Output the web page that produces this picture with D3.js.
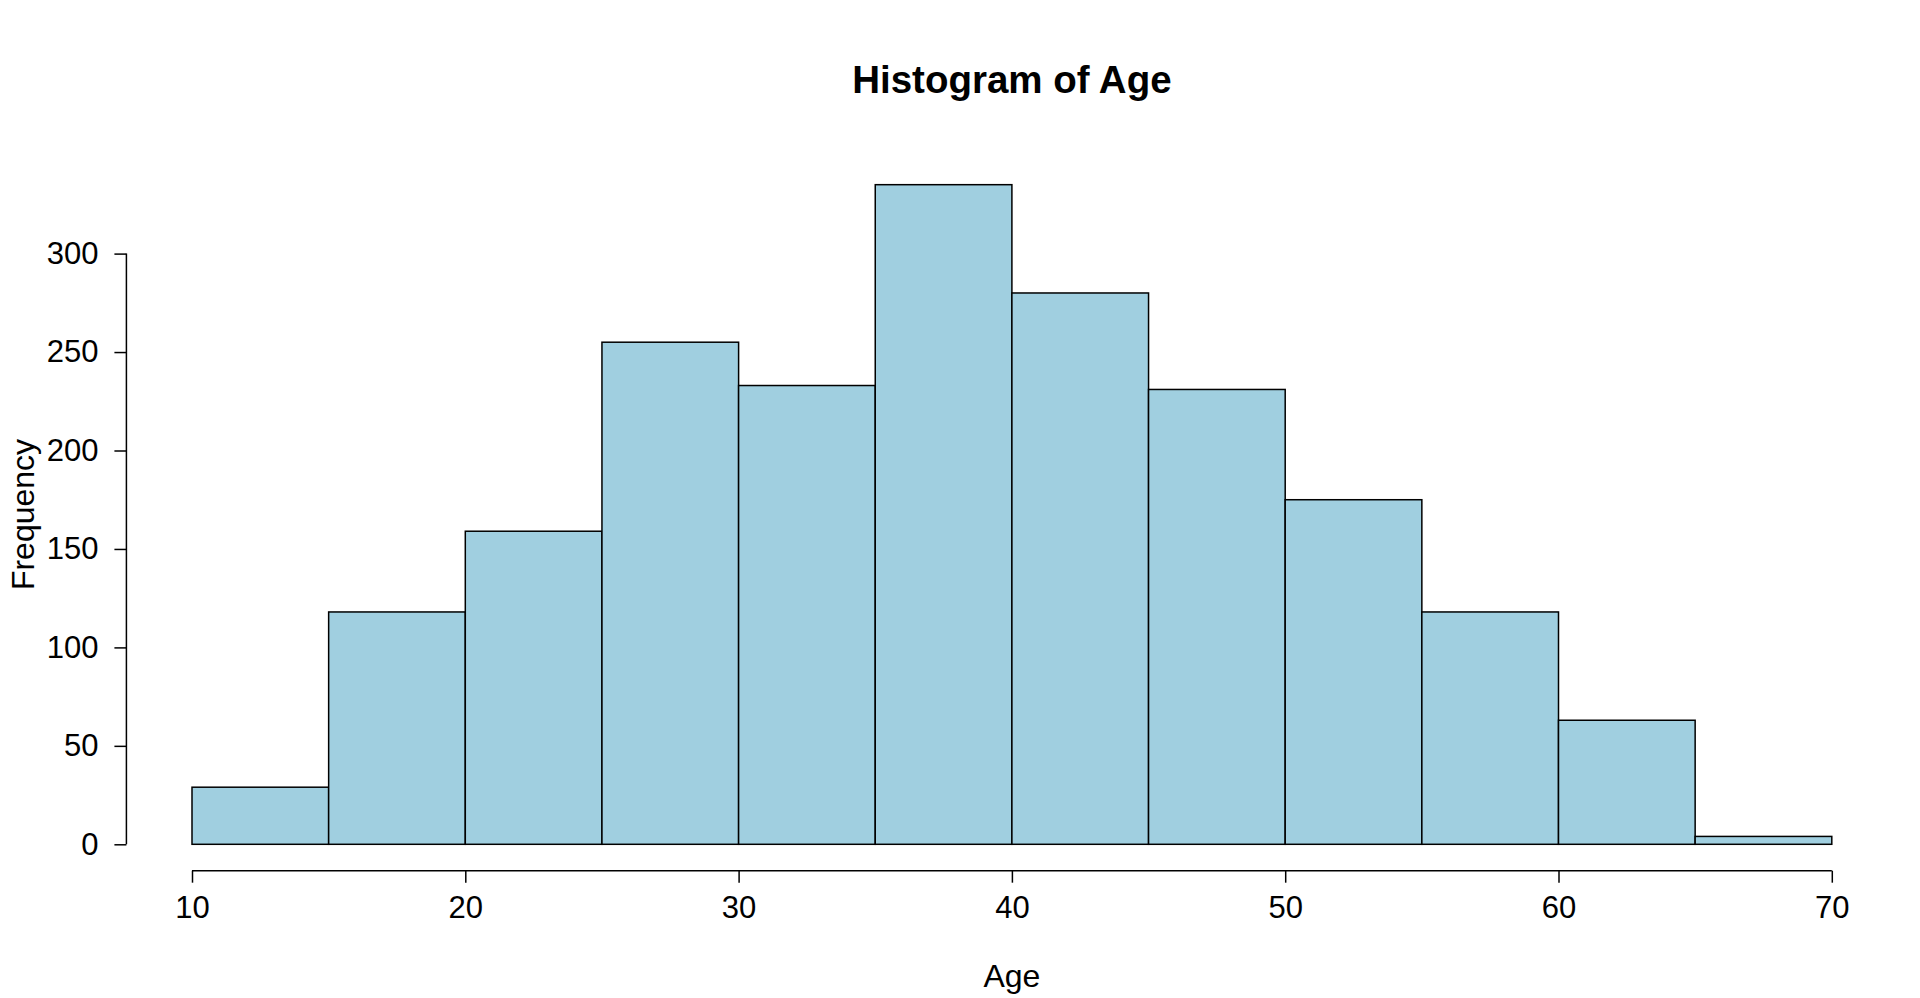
<!DOCTYPE html>
<html>
<head>
<meta charset="utf-8">
<script src="https://cdn.jsdelivr.net/npm/d3@7"></script>
<style>
  html, body { margin: 0; padding: 0; background: #ffffff; }
  svg { display: block; }
  text { font-family: "Liberation Sans", Arial, Helvetica, sans-serif; fill: #000; }
</style>
</head>
<body>
<svg id="chart" width="1920" height="998"></svg>
<script>
// ---- data ----
const binStarts = [10, 15, 20, 25, 30, 35, 40, 45, 50, 55, 60, 65];
const binWidth = 5;
const counts = [29, 118, 159, 255, 233, 335, 280, 231, 175, 118, 63, 4];
const xTicks = [10, 20, 30, 40, 50, 60, 70];
const yTicks = [0, 50, 100, 150, 200, 250, 300];
const titleText = "Histogram of Age";
const xLabel = "Age";
const yLabel = "Frequency";

// ---- layout ----
const svg = d3.select("#chart");
const x = d3.scaleLinear().domain([10, 70]).range([192, 1831.8]);
const y = d3.scaleLinear().domain([0, 300]).range([844.3, 253.6]);
const ymaxData = d3.max(counts);
const xAxisY = y(-0.04 * ymaxData);
const yAxisX = x(10 - 0.04 * 60);

// bars
svg.append("g").selectAll("rect")
  .data(binStarts.map((s, i) => ({ s, c: counts[i] })))
  .join("rect")
  .attr("x", d => x(d.s))
  .attr("y", d => y(d.c))
  .attr("width", d => x(d.s + binWidth) - x(d.s))
  .attr("height", d => y(0) - y(d.c))
  .attr("fill", "#a0cfe0")
  .attr("stroke", "#000")
  .attr("stroke-width", 1.5);

// x axis
const gx = svg.append("g").attr("transform", `translate(0,${xAxisY})`)
  .call(d3.axisBottom(x).tickValues(xTicks).tickFormat(d3.format("d")).tickSize(12).tickPadding(13).tickSizeOuter(0));
gx.select(".domain").attr("stroke", "#000").attr("stroke-width", 1.5)
  .attr("d", `M${x(10)},0H${x(70)}`);
gx.selectAll(".tick line").attr("stroke", "#000").attr("stroke-width", 1.5);
gx.selectAll(".tick text").attr("font-size", 31).attr("font-family", "Liberation Sans, Arial, sans-serif").attr("fill", "#000");

// y axis
const gy = svg.append("g").attr("transform", `translate(${yAxisX},0)`)
  .call(d3.axisLeft(y).tickValues(yTicks).tickFormat(d3.format("d")).tickSize(12).tickPadding(16).tickSizeOuter(0));
gy.select(".domain").attr("stroke", "#000").attr("stroke-width", 1.5)
  .attr("d", `M0,${y(0)}V${y(300)}`);
gy.selectAll(".tick line").attr("stroke", "#000").attr("stroke-width", 1.5);
gy.selectAll(".tick text").attr("font-size", 31).attr("font-family", "Liberation Sans, Arial, sans-serif").attr("fill", "#000");

// title
const cx = x(40);
svg.append("text").attr("x", cx).attr("y", 93)
  .attr("text-anchor", "middle").attr("font-size", 38.5).attr("font-weight", "bold")
  .text(titleText);

// x label
svg.append("text").attr("x", cx).attr("y", 987)
  .attr("text-anchor", "middle").attr("font-size", 32)
  .text(xLabel);

// y label
const cy = y(167.5);
svg.append("text")
  .attr("transform", `translate(34,${cy}) rotate(-90)`)
  .attr("text-anchor", "middle").attr("font-size", 32)
  .text(yLabel);
</script>
</body>
</html>
